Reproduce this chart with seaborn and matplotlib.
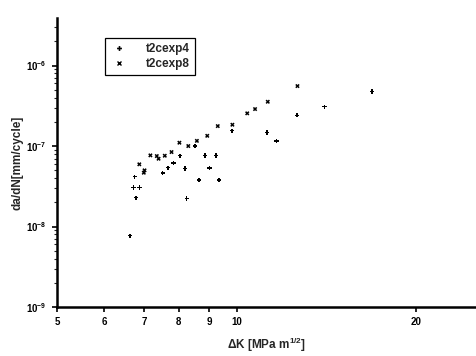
import numpy as np
import pandas as pd
import matplotlib
matplotlib.use("Agg")
import matplotlib.pyplot as plt
from matplotlib.ticker import LogLocator, FixedLocator, FixedFormatter, NullLocator, NullFormatter
from matplotlib.lines import Line2D
import seaborn as sns

# t2cexp4 series ("+")
dk_exp4 = [6.63, 6.78, 6.72, 6.87, 6.75, 7.52, 7.67, 7.84, 8.04, 8.20, 8.25, 8.52,
           8.65, 8.86, 9.01, 9.24, 9.35, 9.83, 11.25, 11.67, 12.62, 14.04, 16.87]
dadn_exp4 = [7.69e-9, 2.28e-8, 3.07e-8, 3.07e-8, 4.16e-8, 4.62e-8, 5.38e-8, 6.15e-8,
             7.58e-8, 5.28e-8, 2.24e-8, 1.00e-7, 3.78e-8, 7.66e-8, 5.33e-8, 7.66e-8,
             3.78e-8, 1.55e-7, 1.48e-7, 1.15e-7, 2.41e-7, 3.08e-7, 4.78e-7]

# t2cexp8 series ("x")
dk_exp8 = [6.87, 7.01, 6.99, 7.17, 7.35, 7.40, 7.58, 7.78, 8.02, 8.30, 8.58, 8.93,
           9.30, 9.84, 10.42, 10.74, 11.28, 12.65]
dadn_exp8 = [5.93e-8, 4.99e-8, 4.66e-8, 7.66e-8, 7.51e-8, 6.95e-8, 7.58e-8, 8.42e-8,
             1.10e-7, 1.00e-7, 1.16e-7, 1.34e-7, 1.77e-7, 1.84e-7, 2.55e-7, 2.88e-7,
             3.55e-7, 5.56e-7]

series_names = ["t2cexp4", "t2cexp8"]
x_ticks = [5, 6, 7, 8, 9, 10, 20]
x_tick_labels = ["5", "6", "7", "8", "9", "10", "20"]

df = pd.DataFrame({
    "dK": dk_exp4 + dk_exp8,
    "dadN": dadn_exp4 + dadn_exp8,
    "series": [series_names[0]] * len(dk_exp4) + [series_names[1]] * len(dk_exp8),
})

sns.set_style("ticks")
plt.rcParams["font.family"] = ["Liberation Sans", "DejaVu Sans"]
plt.rcParams["font.weight"] = "bold"
plt.rcParams["mathtext.default"] = "regular"

fig = plt.figure(figsize=(4.76, 3.56), dpi=100)
ax = fig.add_axes([57 / 476, 49 / 356, 419 / 476, 289 / 356])

sns.scatterplot(data=df, x="dK", y="dadN", style="series",
                markers={"t2cexp4": "P", "t2cexp8": "X"},
                color="black", s=10, linewidth=0, ax=ax, legend=False)

ax.set_xscale("log")
ax.set_yscale("log")
ax.set_xlim(5, 25.2)
ax.set_ylim(1e-9, 3.9e-6)

ax.xaxis.set_major_locator(FixedLocator(x_ticks))
ax.xaxis.set_major_formatter(FixedFormatter(x_tick_labels))
ax.xaxis.set_minor_locator(NullLocator())
ax.xaxis.set_minor_formatter(NullFormatter())

ax.yaxis.set_major_locator(LogLocator(base=10, numticks=10))
ax.yaxis.set_minor_locator(LogLocator(base=10, subs=np.arange(2, 10), numticks=20))
ax.yaxis.set_minor_formatter(NullFormatter())

ax.tick_params(axis="both", which="major", labelsize=7, length=3.5, width=1.2,
               direction="out", color="black", labelcolor="black", pad=4)
ax.tick_params(axis="y", which="minor", length=2, width=0.8, direction="out")
for lab in ax.get_xticklabels() + ax.get_yticklabels():
    lab.set_fontweight("bold")

sns.despine(ax=ax, top=True, right=True)
for side in ("left", "bottom"):
    ax.spines[side].set_linewidth(1.8)
    ax.spines[side].set_color("black")

ax.set_xlabel("ΔK [MPa m$^{1/2}$]", fontsize=8.5, fontweight="bold", labelpad=6)
ax.set_ylabel("da/dN[mm/cycle]", fontsize=8.5, fontweight="bold", labelpad=2)

handles = [
    Line2D([], [], linestyle="none", marker="P", color="black", markersize=3.5, markeredgewidth=0),
    Line2D([], [], linestyle="none", marker="x", color="black", markersize=3.5, markeredgewidth=1),
]
leg = ax.legend(handles, series_names, loc="upper left",
                bbox_to_anchor=((105 - 57) / 419, (307 - 38) / 289),
                frameon=True, fancybox=False, edgecolor="black", framealpha=1,
                prop={"size": 8.5, "weight": "bold"}, handletextpad=1.6,
                borderpad=0.45, labelspacing=0.2, handlelength=1.4, borderaxespad=0)
leg.get_frame().set_linewidth(0.9)

fig.savefig("out.png", dpi=100, facecolor="white")
